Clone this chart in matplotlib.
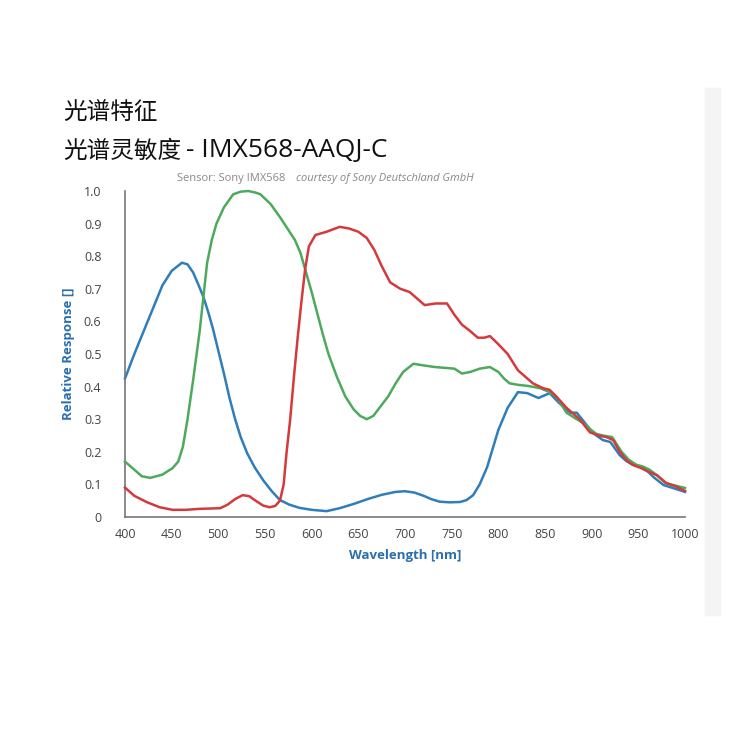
import numpy as np
import matplotlib
matplotlib.use('Agg')
import matplotlib.pyplot as plt
from matplotlib.patches import Rectangle

plt.rcParams['font.family'] = ['Noto Sans CJK SC', 'DejaVu Sans']

# values
blue_wl = [400, 410, 420, 430, 440, 450, 461, 467, 473, 479, 484, 489, 494, 500,
           506, 512, 518, 524, 531, 539, 548, 557, 566, 576, 587, 600, 616, 630, 645,
           660, 675, 690, 700, 710, 720, 728, 737, 748, 759, 766, 773, 780, 788, 794,
           800, 810, 821, 831, 843, 855, 865, 877, 884, 891, 898, 905, 912, 920, 930,
           937, 944, 953, 960, 966, 977, 987, 1000]
blue_v = [0.425, 0.50, 0.57, 0.64, 0.71, 0.755, 0.78, 0.775, 0.75, 0.71, 0.675,
          0.63, 0.58, 0.51, 0.44, 0.365, 0.3, 0.245, 0.195, 0.152, 0.113, 0.08, 0.052,
          0.038, 0.028, 0.022, 0.018, 0.027, 0.04, 0.055, 0.068, 0.077, 0.079, 0.075,
          0.065, 0.055, 0.047, 0.045, 0.046, 0.052, 0.067, 0.1, 0.153, 0.21, 0.267,
          0.335, 0.383, 0.38, 0.365, 0.38, 0.35, 0.32, 0.32, 0.295, 0.27, 0.25,
          0.236, 0.23, 0.19, 0.172, 0.16, 0.153, 0.14, 0.123, 0.098, 0.089, 0.077]

green_wl = [400, 410, 418, 427, 440, 451, 457, 462, 467, 473, 480, 488, 493, 498,
            506, 516, 524, 532, 540, 545, 556, 566, 574, 582, 588, 593, 600, 606, 612,
            618, 627, 636, 645, 652, 659, 666, 674, 682, 690, 698, 709, 720, 732, 745,
            753, 761, 770, 780, 791, 800, 806, 812, 822, 832, 845, 855, 862, 873, 884,
            891, 898, 905, 912, 922, 932, 940, 948, 955, 962, 970, 979, 990, 1000]
green_v = [0.17, 0.145, 0.125, 0.12, 0.13, 0.15, 0.17, 0.215, 0.3, 0.42, 0.57,
           0.78, 0.85, 0.90, 0.95, 0.99, 0.998, 1.0, 0.995, 0.99, 0.96, 0.92, 0.885,
           0.85, 0.81, 0.76, 0.69, 0.625, 0.56, 0.50, 0.43, 0.37, 0.33, 0.31, 0.30,
           0.31, 0.34, 0.37, 0.41, 0.445, 0.47, 0.465, 0.46, 0.457, 0.455, 0.44, 0.445,
           0.455, 0.46, 0.445, 0.425, 0.41, 0.405, 0.402, 0.395, 0.383, 0.37, 0.32,
           0.30, 0.288, 0.27, 0.255, 0.25, 0.245, 0.2, 0.175, 0.16, 0.155, 0.145, 0.128,
           0.104, 0.096, 0.089]

red_wl = [400, 410, 423, 437, 451, 465, 480, 502, 510, 518, 526, 533, 541, 548, 555,
          561, 566, 570, 573, 577, 581, 585, 589, 593, 597, 604, 616, 630, 640, 650,
          659, 667, 675, 684, 695, 705, 713, 721, 733, 745, 753, 761, 770, 778, 785,
          791, 800, 810, 821, 837, 848, 855, 862, 873, 887, 898, 907, 916, 923, 930,
          937, 944, 953, 960, 970, 980, 990, 1000]
red_v = [0.09, 0.065, 0.046, 0.03, 0.022, 0.022, 0.025, 0.027, 0.038, 0.055, 0.067,
         0.064, 0.048, 0.035, 0.03, 0.034, 0.05, 0.1, 0.195, 0.3, 0.43, 0.55, 0.66,
         0.76, 0.83, 0.865, 0.875, 0.89, 0.885, 0.875, 0.856, 0.82, 0.77, 0.72, 0.70,
         0.69, 0.67, 0.65, 0.655, 0.655, 0.62, 0.59, 0.57, 0.55, 0.55, 0.555, 0.53,
         0.5, 0.45, 0.41, 0.395, 0.39, 0.37, 0.335, 0.30, 0.26, 0.25, 0.245, 0.236,
         0.2, 0.175, 0.16, 0.15, 0.14, 0.128, 0.104, 0.094, 0.08]

x_ticks = [400, 450, 500, 550, 600, 650, 700, 750, 800, 850, 900, 950, 1000]
y_ticks = [0, 0.1, 0.2, 0.3, 0.4, 0.5, 0.6, 0.7, 0.8, 0.9, 1.0]
y_labels = ['0', '0.1', '0.2', '0.3', '0.4', '0.5', '0.6', '0.7', '0.8', '0.9', '1.0']

blue = '#2f7dbb'
green = '#4daa5c'
red = '#d43a3c'
axis_blue = '#2a6fae'
latin = ['Open Sans', 'DejaVu Sans']

fig = plt.figure(figsize=(7.5, 7.5), dpi=100)

# faint shadow strip on the right of the screenshot
fig.patches.append(Rectangle((705 / 750, 1 - 615 / 750), 15 / 750, 527 / 750,
                             transform=fig.transFigure, color='#f4f4f4', zorder=0))

ax = fig.add_axes([125 / 750, 1 - 517 / 750, 560 / 750, 326 / 750])
ax.plot(green_wl, green_v, color=green, lw=1.8, clip_on=False, zorder=3)
ax.plot(red_wl, red_v, color=red, lw=1.8, clip_on=False, zorder=4)
ax.plot(blue_wl, blue_v, color=blue, lw=1.8, clip_on=False, zorder=2)

ax.set_xlim(400, 1000)
ax.set_ylim(0, 1.0)
ax.set_xticks(x_ticks)
ax.set_xticklabels([str(t) for t in x_ticks])
ax.set_yticks(y_ticks)
ax.set_yticklabels(y_labels)
ax.tick_params(length=0, labelsize=9, labelcolor='#444444')
ax.tick_params(axis='y', pad=17)
ax.tick_params(axis='x', pad=8)
for lab in ax.get_yticklabels() + ax.get_xticklabels():
    lab.set_family(latin)
for s in ['top', 'right']:
    ax.spines[s].set_visible(False)
for s in ['left', 'bottom']:
    ax.spines[s].set_color('#777777')
    ax.spines[s].set_linewidth(1.2)

ax.set_xlabel('Wavelength [nm]', color=axis_blue, fontsize=9.5, fontweight='bold',
              family=latin, labelpad=6)
ax.set_ylabel('Relative Response []', color=axis_blue, fontsize=9.5, fontweight='bold',
              family=latin, labelpad=6)

fig.text(63 / 750, 1 - 112 / 750, '光谱特征', fontsize=17, va='center', ha='left',
         color='#111111', fontweight='medium')
fig.text(63 / 750, 1 - 151 / 750, '光谱灵敏度', fontsize=17, va='center', ha='left',
         color='#111111', fontweight='medium')
fig.text(186 / 750, 1 - 151 / 750, '- IMX568-AAQJ-C', fontsize=19, va='center',
         ha='left', color='#111111', family=latin, fontweight='medium')
fig.text(177 / 750, 1 - 179 / 750, 'Sensor: Sony IMX568', fontsize=8, va='center',
         ha='left', color='#888888', family=latin)
fig.text(296 / 750, 1 - 179 / 750, 'courtesy of Sony Deutschland GmbH', fontsize=8,
         va='center', ha='left', color='#888888', style='italic', family=latin)

fig.savefig('out.png', dpi=100, facecolor='white')
